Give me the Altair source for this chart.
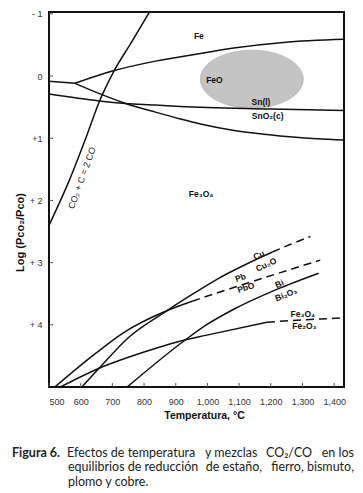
import altair as alt
import pandas as pd

# ---------------- data (temperature °C, log(Pco2/Pco)) ----------------
boud_T = [500, 563, 616, 658, 705, 760, 817]
boud_L = [2.40, 1.69, 1.00, 0.42, -0.08, -0.54, -1.03]

fe_fe3o4_T = [500, 582]
fe_fe3o4_L = [0.085, 0.117]

fe_feo_T = [582, 700, 836, 973, 1083, 1240, 1431]
fe_feo_L = [0.117, -0.08, -0.24, -0.36, -0.45, -0.54, -0.59]

feo_fe3o4_T = [582, 663, 742, 836, 915, 978, 1080, 1188, 1345, 1431]
feo_fe3o4_L = [0.117, 0.29, 0.44, 0.58, 0.69, 0.77, 0.87, 0.94, 1.01, 1.03]

sn_T = [500, 658, 742, 836, 915, 1200, 1431]
sn_L = [0.29, 0.40, 0.44, 0.465, 0.49, 0.53, 0.555]

cu_T = [600, 658, 752, 873, 962, 1030, 1205]
cu_L = [5.02, 4.70, 4.20, 3.77, 3.48, 3.27, 2.83]
cu_dash_T = [1205, 1265, 1325]
cu_dash_L = [2.83, 2.70, 2.58]

pb_T = [516, 647, 731, 873, 952]
pb_L = [5.01, 4.46, 4.14, 3.77, 3.62]
pb_dash_T = [952, 1083, 1356]
pb_dash_L = [3.62, 3.40, 2.96]

bi_T = [742, 931, 994, 1083, 1219, 1351]
bi_L = [5.02, 4.24, 4.01, 3.75, 3.43, 3.17]

fe2o3_T = [532, 653, 805, 931, 994, 1188]
fe2o3_L = [5.01, 4.71, 4.43, 4.24, 4.17, 3.96]
fe2o3_dash_T = [1188, 1300, 1430]
fe2o3_dash_L = [3.96, 3.92, 3.89]

ellipse_T = [1140]
ellipse_L = [0.05]

label_text = ["Fe", "FeO", "Sn(l)", "SnO₂(c)", "Fe₃O₄", "Cu", "Cu₂O", "Pb", "PbO",
              "Bi", "Bi₂O₃", "Fe₃O₄", "Fe₂O₃"]
label_T = [973, 1022, 1169, 1190, 980, 1162, 1185, 1104, 1121, 1227, 1248, 1301, 1306]
label_L = [-0.64, 0.065, 0.41, 0.647, 1.89, 2.876, 3.03, 3.24, 3.40, 3.34, 3.51, 3.83, 4.02]
label_angle = [0, 0, 0, 0, 0, 335, 335, 342, 342, 338, 338, 0, 0]

boud_label = ["CO₂ + C = 2 CO"]
boud_label_T = [604]
boud_label_L = [1.64]

x_ticks = [500, 600, 700, 800, 900, 1000, 1100, 1200, 1300, 1400]
y_ticks = [-1, 0, 1, 2, 3, 4]
y_tick_labels = ["- 1", "0", "+1", "+ 2", "+ 3", "+ 4"]

caption_bold = "Figura 6."
caption_l1 = ["Efectos de temperatura", "y mezclas", "CO₂/CO", "en los"]
caption_l2 = ["equilibrios de reducción", "de estaño,", "fierro, bismuto,"]
caption_l3 = ["plomo y cobre."]

# ---------------- tables ----------------
rows = []
def add(name, seg, Ts, Ls):
    for t, l in zip(Ts, Ls):
        rows.append({"series": name, "seg": seg, "T": t, "L": l})

add("boud", "solid", boud_T, boud_L)
add("fe_fe3o4", "solid", fe_fe3o4_T, fe_fe3o4_L)
add("fe_feo", "solid", fe_feo_T, fe_feo_L)
add("feo_fe3o4", "solid", feo_fe3o4_T, feo_fe3o4_L)
add("sn", "solid", sn_T, sn_L)
add("cu", "solid", cu_T, cu_L)
add("cu_d", "dash", cu_dash_T, cu_dash_L)
add("pb", "solid", pb_T, pb_L)
add("pb_d", "dash", pb_dash_T, pb_dash_L)
add("bi", "solid", bi_T, bi_L)
add("fe2o3", "solid", fe2o3_T, fe2o3_L)
add("fe2o3_d", "dash", fe2o3_dash_T, fe2o3_dash_L)
lines = pd.DataFrame(rows)

labels = pd.DataFrame({"text": label_text, "T": label_T, "L": label_L, "angle": label_angle})
blabel = pd.DataFrame({"text": boud_label, "T": boud_label_T, "L": boud_label_L})
ell = pd.DataFrame({"T": ellipse_T, "L": ellipse_L})
xt = pd.DataFrame({"T": x_ticks})
yt = pd.DataFrame({"L": y_ticks})

W, H = 295, 375

expr = " : ".join(f"datum.value == {v} ? '{s}'" for v, s in zip(y_ticks, y_tick_labels)) + " : ''"

x_enc = alt.X("T:Q", scale=alt.Scale(domain=[500, 1431], nice=False, zero=False),
              axis=alt.Axis(values=x_ticks, format=",d", title="Temperatura, °C",
                            ticks=False, tickSize=0, domain=False, grid=False,
                            labelPadding=10, labelFontSize=9, labelColor="#333",
                            labelFont="Liberation Sans",
                            titleFont="Liberation Sans", titleFontSize=10.5,
                            titleFontWeight="bold", titleColor="#111",
                            titleX=155, titleY=28, titleBaseline="middle",
                            titleAlign="center"))
y_enc = alt.Y("L:Q", scale=alt.Scale(domain=[-1.03, 5.0], reverse=True, nice=False, zero=False),
              axis=alt.Axis(values=y_ticks, labelExpr=expr, title="Log (Pco₂/Pco)",
                            ticks=False, tickSize=0, domain=False, grid=False,
                            labelPadding=7, labelFontSize=9, labelColor="#333",
                            labelFont="Liberation Sans",
                            titleFont="Liberation Sans", titleFontSize=11,
                            titleFontWeight="bold", titleColor="#111",
                            titleAngle=270, titleX=-29, titleY=220,
                            titleBaseline="middle", titleAlign="center"))

ellipse = alt.Chart(ell).mark_point(
    shape="M -1 0 A 1 0.563 0 1 1 1 0 A 1 0.563 0 1 1 -1 0 Z",
    size=10609, filled=True, fill="#c4c4c4", fillOpacity=1,
    stroke="#a8a8a8", strokeWidth=0.6, strokeOpacity=1
).encode(x=x_enc, y=y_enc)

solid = alt.Chart(lines).transform_filter("datum.seg == 'solid'").mark_line(
    color="#111", strokeWidth=1.5, interpolate="monotone", clip=True
).encode(x=x_enc, y=y_enc, detail="series:N")

dashed = alt.Chart(lines).transform_filter("datum.seg == 'dash'").mark_line(
    color="#111", strokeWidth=1.5, interpolate="monotone", clip=True, strokeDash=[8, 5]
).encode(x=x_enc, y=y_enc, detail="series:N")

xticks = alt.Chart(xt).mark_rule(color="#555", strokeWidth=1).encode(
    x=x_enc, y=alt.value(H), y2=alt.value(H - 4))
yticks = alt.Chart(yt).mark_rule(color="#555", strokeWidth=1).encode(
    y=y_enc, x=alt.value(0), x2=alt.value(4))

lab = alt.Chart(labels).mark_text(
    font="Liberation Sans", fontSize=8.5, fontWeight="bold", color="#111",
    align="center", baseline="middle"
).encode(x=x_enc, y=y_enc, text="text:N", angle=alt.Angle("angle:Q", scale=None))

blab = alt.Chart(blabel).mark_text(
    font="Liberation Sans", fontSize=9, color="#222", angle=290,
    align="center", baseline="middle"
).encode(x=x_enc, y=y_enc, text="text:N")

cap_font = "Lato"

def cap(text, x, y, align="left", bold=False):
    return alt.Chart(pd.DataFrame({"t": [text]})).mark_text(
        font=cap_font, fontSize=12.5, fontWeight="bold" if bold else "normal",
        color="#222", align=align, baseline="middle"
    ).encode(text="t:N", x=alt.value(x), y=alt.value(y))

y1, y2, y3 = 440.7, 455, 469.7
caps = [
    cap(caption_bold, -37, y1, bold=True),
    cap(caption_l1[0], 18, y1),
    cap(caption_l1[1], 156, y1),
    cap(caption_l1[2], 217, y1),
    cap(caption_l1[3], 305, y1, align="right"),
    cap(caption_l2[0], 19, y2),
    cap(caption_l2[1], 185, y2, align="center"),
    cap(caption_l2[2], 305, y2, align="right"),
    cap(caption_l3[0], 19, y3),
]

chart = alt.layer(ellipse, solid, dashed, xticks, yticks, lab, blab, *caps).properties(
    width=W, height=H,
    autosize=alt.AutoSizeParams(type="none"),
    padding={"left": 41, "top": 4, "right": 11, "bottom": 106},
    background="white"
).configure_view(stroke="#111", strokeWidth=2)

chart.save("out.html", embed_options={"renderer": "svg", "actions": False})
